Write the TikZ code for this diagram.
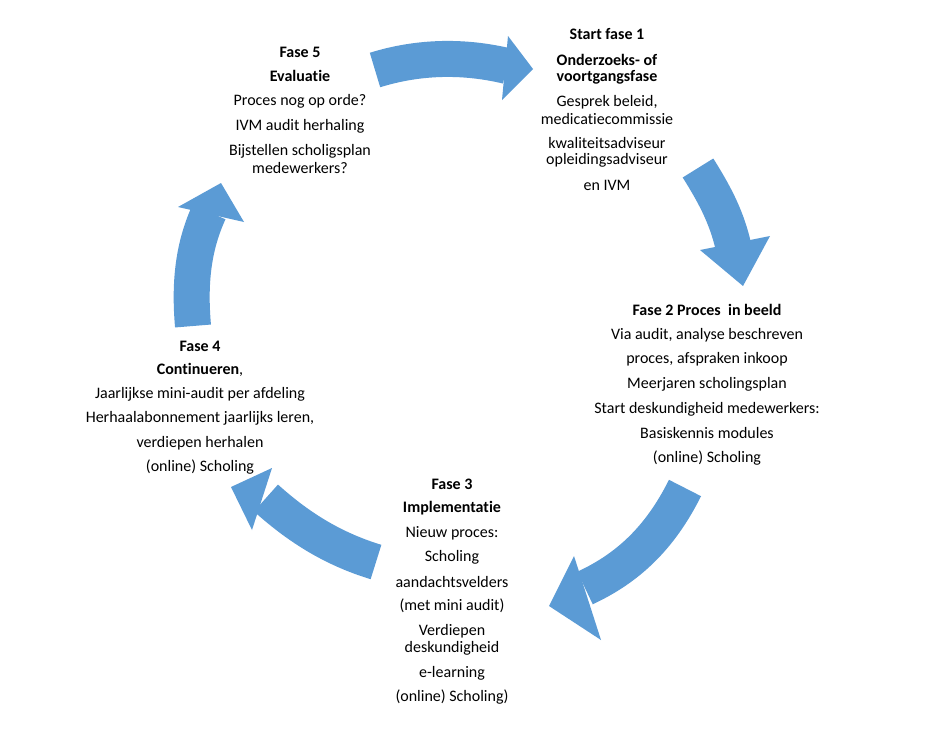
\documentclass[tikz,border=0pt]{standalone}
\usepackage{fontspec}
\setmainfont{Carlito}[RawFeature={-liga;-clig;-dlig;-calt}]
\begin{document}
\begin{tikzpicture}[x=1pt,y=-1pt,
  band/.style={draw=arrowc,line width=36pt,line cap=butt},
  head/.style={fill=arrowc,draw=none},
  t/.style={font=\fontsize{16}{18}\selectfont,inner sep=0pt,anchor=center},
  b/.style={t,font=\fontsize{16}{18}\selectfont\bfseries}]
\definecolor{arrowc}{HTML}{5B9BD5}
\useasboundingbox (0,0) rectangle (927,736);
\fill[white] (0,0) rectangle (927,736);
% arrow 1
\coordinate (a1s) at (375,70); \coordinate (a1e) at (507,66);
\draw[band] (a1s) .. controls (420,56) and (465,56) .. (a1e);
\fill[head] (508,36) -- (533,69) -- (502,100) -- cycle;
% arrow 2
\coordinate (a2s) at (698,168); \coordinate (a2e) at (733,245);
\draw[band] (a2s) .. controls (713,192) and (726,215) .. (a2e);
\fill[head] (700,250) -- (770,236) -- (743,286) -- cycle;
% arrow 3
\coordinate (a3s) at (685,488); \coordinate (a3e) at (585,588);
\draw[band] (a3s) .. controls (660,538) and (628,568) .. (a3e);
\fill[head] (574,556) -- (601,640) -- (549,606) -- cycle;
% arrow 4
\coordinate (a4s) at (376,562); \coordinate (a4e) at (266,498);
\draw[band] (a4s) .. controls (330,548) and (296,525) .. (a4e);
\fill[head] (272,468) -- (252,530) -- (231,487) -- cycle;
% arrow 5
\coordinate (a5s) at (193,326); \coordinate (a5e) at (209,212);
\draw[band] (a5s) .. controls (189,280) and (194,245) .. (a5e);
\fill[head] (178,207) -- (244,222) -- (221,183) -- cycle;
% Fase 5
\node[b] (f5a) at (300,52) {Fase 5};
\node[b] (f5b) at (300,76) {Evaluatie};
\node[t] (f5c) at (300,101) {Proces nog op orde?};
\node[t] (f5d) at (300,126) {IVM audit herhaling};
\node[t] (f5e) at (300,151) {Bijstellen scholigsplan};
\node[t] (f5f) at (300,168) {medewerkers?};
% Fase 1
\node[b] (f1a) at (607,34) {Start fase 1};
\node[b] (f1b) at (607,60) {Onderzoeks- of};
\node[b] (f1c) at (607,77) {voortgangsfase};
\node[t] (f1d) at (607,102) {Gesprek beleid,};
\node[t] (f1e) at (607,119) {medicatiecommissie};
\node[t] (f1f) at (607,143) {kwaliteitsadviseur};
\node[t] (f1g) at (607,160) {opleidingsadviseur};
\node[t] (f1h) at (607,185) {en IVM};
% Fase 2
\node[b] (f2a) at (707,310) {Fase 2 Proces\ \ in beeld};
\node[t] (f2b) at (707,335) {Via audit, analyse beschreven};
\node[t] (f2c) at (707,359) {proces, afspraken inkoop};
\node[t] (f2d) at (707,384) {Meerjaren scholingsplan};
\node[t] (f2e) at (707,409) {Start deskundigheid medewerkers:};
\node[t] (f2f) at (707,433) {Basiskennis modules};
\node[t] (f2g) at (707,458) {(online) Scholing};
% Fase 3
\node[b] (f3a) at (452,484) {Fase 3};
\node[b] (f3b) at (452,508) {Implementatie};
\node[t] (f3c) at (452,533) {Nieuw proces:};
\node[t] (f3d) at (452,557) {Scholing};
\node[t] (f3e) at (452,582) {aandachtsvelders};
\node[t] (f3f) at (452,606) {(met mini audit)};
\node[t] (f3g) at (452,631) {Verdiepen};
\node[t] (f3h) at (452,648) {deskundigheid};
\node[t] (f3i) at (452,673) {e-learning};
\node[t] (f3j) at (452,697) {(online) Scholing)};
% Fase 4
\node[b] (f4a) at (200,346) {Fase 4};
\node[t] (f4b) at (200,370) {\textbf{Continueren},};
\node[t] (f4c) at (200,394) {Jaarlijkse mini-audit per afdeling};
\node[t] (f4d) at (200,418) {Herhaalabonnement jaarlijks leren,};
\node[t] (f4e) at (200,443) {verdiepen herhalen};
\node[t] (f4f) at (200,467) {(online) Scholing};
\end{tikzpicture}
\end{document}
